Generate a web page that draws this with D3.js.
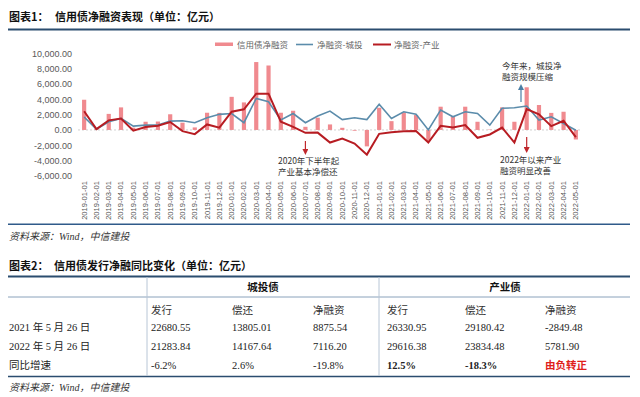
<!DOCTYPE html>
<html><head><meta charset="utf-8">
<script src="https://cdn.jsdelivr.net/npm/d3@7/dist/d3.min.js"></script>
<style>
html,body{margin:0;padding:0;background:#fff;}
svg{display:block;}
</style></head>
<body>
<svg id="c" width="640" height="397"></svg>
<script>
const categories = ["2019-01-01","2019-02-01","2019-03-01","2019-04-01","2019-05-01","2019-06-01","2019-07-01","2019-08-01","2019-09-01","2019-10-01","2019-11-01","2019-12-01",
"2020-01-01","2020-02-01","2020-03-01","2020-04-01","2020-05-01","2020-06-01","2020-07-01","2020-08-01","2020-09-01","2020-10-01","2020-11-01","2020-12-01",
"2021-01-01","2021-02-01","2021-03-01","2021-04-01","2021-05-01","2021-06-01","2021-07-01","2021-08-01","2021-09-01","2021-10-01","2021-11-01","2021-12-01",
"2022-01-01","2022-02-01","2022-03-01","2022-04-01","2022-05-01"];
const netTotal = [3950,150,2100,2950,300,1070,1100,2050,950,330,2250,2230,
4330,3600,8880,8430,2250,2510,410,1600,720,280,-100,-2150,
2900,1150,2300,1950,-1470,3040,1810,3040,1070,50,2950,1070,
5580,3260,2230,2380,-1250];
const netLGFV = [1700,100,1070,1500,500,630,630,1150,1200,950,1600,2040,
2150,950,4130,3690,1290,2150,940,1820,2470,1350,1600,1350,
3350,1500,2380,2060,0,2600,1720,2380,2150,630,2830,2900,
3130,1290,1720,850,-50];
const netIndustry = [2450,100,1250,1500,-100,370,540,1030,-160,-550,720,300,
2380,2700,4750,4750,1070,410,-380,-350,-1650,-1120,-1780,-3230,
-510,-300,-160,-150,-1650,540,330,630,-1030,-590,300,-1650,
2730,2040,500,1200,-940];
const yTicks = [10000,8000,6000,4000,2000,0,-2000,-4000,-6000];
const seriesNames = ["信用债净融资","净融资-城投","净融资-产业"];

// table data
const tableGroups = ["城投债","产业债"];
const tableCols = ["发行","偿还","净融资","发行","偿还","净融资"];
const rowLabels = ["2021 年 5 月 26 日","2022 年 5 月 26 日","同比增速"];
const row2021 = ["22680.55","13805.01","8875.54","26330.95","29180.42","-2849.48"];
const row2022 = ["21283.84","14167.64","7116.20","29616.38","23834.48","5781.90"];
const rowYoY = ["-6.2%","2.6%","-19.8%","12.5%","-18.3%","由负转正"];

const svg = d3.select("#c");
const CJK = "'Noto Sans CJK SC', sans-serif";
const SANS = "'Liberation Sans', Arial, 'Noto Sans CJK SC', sans-serif";
const SERIF = "'Liberation Serif', 'Times New Roman', 'Noto Sans CJK SC', serif";
const colBar = "#f08a8f", colBlue = "#5b8cab", colRed = "#b71c22", navy = "#2b4d6f";

svg.append("rect").attr("width",640).attr("height",397).attr("fill","#fff");

// Title 1
svg.append("text").attr("x",9).attr("y",21).attr("font-family",CJK).attr("font-weight","bold")
  .attr("font-size",11).attr("fill","#111").text("图表1：");
svg.append("text").attr("x",55).attr("y",21).attr("font-family",CJK).attr("font-weight","bold")
  .attr("font-size",11).attr("fill","#111").text("信用债净融资表现（单位：亿元）");
svg.append("line").attr("x1",8).attr("x2",630).attr("y1",29.5).attr("y2",29.5)
  .attr("stroke",navy).attr("stroke-width",2);

// scales
const x = d3.scaleBand().domain(categories).range([78,582]).paddingInner(0.66).paddingOuter(0.33);
const y = d3.scaleLinear().domain([-6000,10000]).range([175.8,53.5]);
const xc = d => x(d) + x.bandwidth()/2;

// y axis labels
const yAxis = d3.axisLeft(y).tickValues(yTicks).tickSize(0).tickPadding(0)
  .tickFormat(d => d3.format(",.2f")(d).replace("−","-"));
const ga = svg.append("g").attr("transform","translate(72,0)").call(yAxis);
ga.select(".domain").remove();
ga.selectAll("text").attr("font-family",SANS).attr("font-size",9).attr("fill","#595959");

// zero line
svg.append("line").attr("x1",78).attr("x2",582).attr("y1",y(0)).attr("y2",y(0))
  .attr("stroke","#d0d0d0").attr("stroke-width",1).attr("stroke-dasharray","2,2");

// x axis labels
const xAxis = d3.axisBottom(x).tickSize(0).tickPadding(0);
const gx = svg.append("g").attr("transform","translate(0,181)").call(xAxis);
gx.select(".domain").remove();
gx.selectAll("text").attr("font-family",SANS).attr("font-size",7.6).attr("fill","#555")
  .attr("text-anchor","end").attr("dy","0.32em").attr("dx",0)
  .attr("x",0).attr("y",0);
gx.selectAll(".tick text").attr("transform","rotate(-90)");

// bars
svg.append("g").selectAll("rect").data(categories).join("rect")
  .attr("x",d=>x(d)).attr("width",x.bandwidth())
  .attr("y",(d,i)=>y(Math.max(0,netTotal[i])))
  .attr("height",(d,i)=>Math.abs(y(netTotal[i])-y(0)))
  .attr("fill",colBar);

// lines
const line = arr => d3.line().x((d,i)=>xc(categories[i])).y(d=>y(d))(arr);
svg.append("path").attr("d",line(netLGFV)).attr("fill","none").attr("stroke",colBlue).attr("stroke-width",1.6);
svg.append("path").attr("d",line(netIndustry)).attr("fill","none").attr("stroke",colRed).attr("stroke-width",2);

// legend
const lg = svg.append("g").attr("font-family",CJK).attr("font-size",8.5).attr("fill","#666");
lg.append("rect").attr("x",215).attr("y",42.5).attr("width",18).attr("height",3.5).attr("fill",colBar);
lg.append("text").attr("x",237).attr("y",47.5).text(seriesNames[0]);
lg.append("line").attr("x1",296).attr("x2",313).attr("y1",44.5).attr("y2",44.5).attr("stroke",colBlue).attr("stroke-width",1.6);
lg.append("text").attr("x",317).attr("y",47.5).text(seriesNames[1]);
lg.append("line").attr("x1",373).attr("x2",391).attr("y1",44.5).attr("y2",44.5).attr("stroke",colRed).attr("stroke-width",2);
lg.append("text").attr("x",394).attr("y",47.5).text(seriesNames[2]);

// annotations
const defs = svg.append("defs");
function marker(id,color){
  defs.append("marker").attr("id",id).attr("viewBox","0 0 10 10").attr("refX",5).attr("refY",5)
    .attr("markerWidth",5).attr("markerHeight",5).attr("orient","auto-start-reverse")
    .append("path").attr("d","M0,0 L10,5 L0,10 z").attr("fill",color);
}
marker("ar","#c0282d"); marker("ab","#4a7fa5");
function arrow(xp,y1,y2,id,color){
  svg.append("line").attr("x1",xp).attr("x2",xp).attr("y1",y1).attr("y2",y2)
    .attr("stroke",color).attr("stroke-width",1.2).attr("marker-end","url(#"+id+")");
}
arrow(xc("2020-07-01"),141,152,"ar","#c0282d");
arrow(521,102,87,"ab","#4a7fa5");
arrow(xc("2022-01-01"),137,150,"ar","#c0282d");
const an = svg.append("g").attr("font-family",CJK).attr("font-size",8.5).attr("fill","#333");
an.append("text").attr("x",278).attr("y",164).text("2020年下半年起");
an.append("text").attr("x",278).attr("y",175).text("产业基本净偿还");
an.append("text").attr("x",502).attr("y",69).text("今年来，城投净");
an.append("text").attr("x",502).attr("y",80).text("融资规模压缩");
an.append("text").attr("x",500).attr("y",163).text("2022年以来产业");
an.append("text").attr("x",500).attr("y",174).text("融资明显改善");

// bottom line chart 1 + source
svg.append("line").attr("x1",8).attr("x2",630).attr("y1",224.3).attr("y2",224.3).attr("stroke","#2f5a8a").attr("stroke-width",1.5);
svg.append("text").attr("x",9).attr("y",240).attr("font-family",SERIF).attr("font-style","italic")
  .attr("font-size",10).attr("fill","#333").text("资料来源：Wind，中信建投");

// Table
svg.append("text").attr("x",9).attr("y",270).attr("font-family",CJK).attr("font-weight","bold")
  .attr("font-size",11).attr("fill","#111").text("图表2：");
svg.append("text").attr("x",54).attr("y",270).attr("font-family",CJK).attr("font-weight","bold")
  .attr("font-size",11).attr("fill","#111").text("信用债发行净融同比变化（单位：亿元）");
svg.append("line").attr("x1",8).attr("x2",630).attr("y1",276.5).attr("y2",276.5).attr("stroke",navy).attr("stroke-width",2);
svg.append("line").attr("x1",8).attr("x2",630).attr("y1",297).attr("y2",297).attr("stroke","#8aa2bb").attr("stroke-width",1);
svg.append("line").attr("x1",8).attr("x2",630).attr("y1",376.5).attr("y2",376.5).attr("stroke",navy).attr("stroke-width",1.5);
[147,379].forEach(xp=>svg.append("line").attr("x1",xp).attr("x2",xp).attr("y1",277).attr("y2",376)
  .attr("stroke","#b8c6d6").attr("stroke-width",1));
const gxs = [263,505];
tableGroups.forEach((g,i)=>svg.append("text").attr("x",gxs[i]).attr("y",291).attr("text-anchor","middle")
  .attr("font-family",CJK).attr("font-weight","bold").attr("font-size",10.5).attr("fill","#111").text(g));
const colX = [151,232,313,387,465,545];
tableCols.forEach((c,i)=>svg.append("text").attr("x",colX[i]).attr("y",313.5)
  .attr("font-family",SERIF).attr("font-size",10.5).attr("fill","#333").text(c));
const rowY = [331,350,369];
rowLabels.forEach((r,i)=>svg.append("text").attr("x",9).attr("y",rowY[i])
  .attr("font-family",SERIF).attr("font-size",10.5).attr("fill","#222").text(r));
[row2021,row2022,rowYoY].forEach((row,ri)=>row.forEach((v,ci)=>{
  const bold = ri===2 && ci>=3;
  svg.append("text").attr("x",colX[ci]).attr("y",rowY[ri])
    .attr("font-family",SERIF).attr("font-size",10.5)
    .attr("font-weight",bold?"bold":"normal")
    .attr("fill",(ri===2&&ci===5)?"#e0201a":"#222").text(v);
}));
svg.append("text").attr("x",9).attr("y",391).attr("font-family",SERIF).attr("font-style","italic")
  .attr("font-size",10).attr("fill","#333").text("资料来源：Wind，中信建投");
</script>
</body></html>
